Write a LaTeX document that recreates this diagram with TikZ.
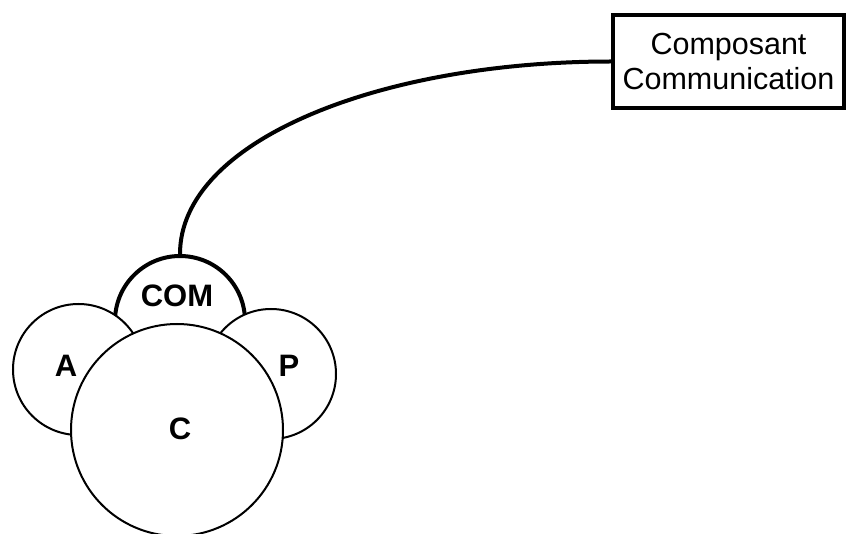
\documentclass[tikz,border=0pt]{standalone}
\usepackage{fontspec}
\setmainfont{Liberation Sans}
\begin{document}
\begin{tikzpicture}[x=1pt,y=-1pt,
  part/.style={circle, draw, fill=white, line width=2pt, inner sep=0pt},
  comp/.style={circle, draw, line width=4pt, inner sep=0pt},
  lbl/.style={font=\fontsize{31}{31}\selectfont\bfseries},
  boxstyle/.style={draw, line width=4pt, minimum width=231pt, minimum height=93pt, inner sep=0pt, align=center, font=\fontsize{30.5}{35}\selectfont}]
\useasboundingbox (0,0) rectangle (846,534);
\begin{scope}
\clip (0,0) rectangle (846,534);
\node[comp, minimum size=130pt] (com) at (180,321) {};
\node[part, minimum size=131pt] (a) at (78.5,369.5) {};
\node[part, minimum size=130pt] (p) at (271,374) {};
\node[part, minimum size=212pt] (c) at (177,430) {};
\end{scope}
\node[lbl] (lcom) at (177,296) {COM};
\node[lbl] (la) at (66,366) {A};
\node[lbl] (lp) at (289,366) {P};
\node[lbl] (lc) at (180,429) {C};
\node[boxstyle] (box) at (728.5,61.5) {Composant\\Communication};
\draw[line width=4pt] (com.north) .. controls +(0,-113) and +(-232,0) .. (box.west);
\end{tikzpicture}
\end{document}
